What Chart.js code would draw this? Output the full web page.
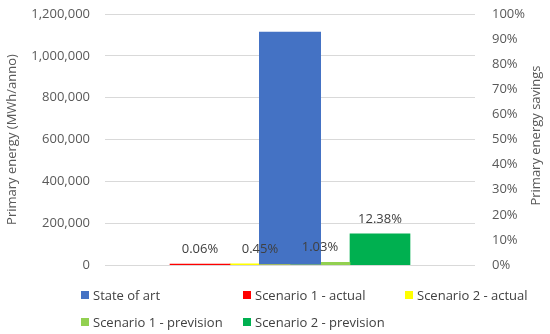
<!DOCTYPE html>
<html>
<head>
<meta charset="utf-8">
<script src="https://cdn.jsdelivr.net/npm/chart.js@4/dist/chart.umd.min.js"></script>
<style>
  html, body { margin: 0; padding: 0; background: #fff; }
  #wrap { position: relative; width: 550px; height: 334px; }
  #legend { position: absolute; left: 81px; top: 281px; width: 469px;
    display: grid; grid-template-columns: 162px 162px 145px; grid-auto-rows: 27px;
    font: 13px "Open Sans", sans-serif; color: #404040; }
  #legend div { display: flex; align-items: center; white-space: nowrap; }
  #legend span { display: inline-block; width: 8px; height: 8px; margin-right: 4px; }
</style>
</head>
<body>
<div id="wrap">
  <canvas id="chart" width="550" height="334"></canvas>
  <div id="legend"></div>
</div>
<script>
// values
var categories = [''];
var stateOfArt = [1115000];            // MWh/anno, left axis
var savingLabels = ['Scenario 1 - actual', 'Scenario 2 - actual', 'Scenario 1 - prevision', 'Scenario 2 - prevision'];
var savingValues = [0.06, 0.45, 1.03, 12.38];   // %, right axis
var savingColors = ['#FF0000', '#FFFF00', '#92D050', '#00B050'];

var datasets = [{
  label: 'State of art',
  data: stateOfArt,
  backgroundColor: '#4472C4',
  yAxisID: 'y',
  grouped: false,
  maxBarThickness: 62
}];
for (var i = 0; i < savingValues.length; i++) {
  datasets.push({
    label: savingLabels[i],
    data: [savingValues[i]],
    backgroundColor: savingColors[i],
    yAxisID: 'y1',
    barThickness: 60,
    minBarLength: 1,
    pctLabel: true
  });
}

// percent labels above the saving bars + right axis title read bottom-up like Excel
var pctLabels = {
  id: 'pctLabels',
  afterDatasetsDraw: function(chart) {
    var ctx = chart.ctx;
    ctx.save();
    ctx.font = '13px "Open Sans", sans-serif';
    ctx.fillStyle = '#404040';
    ctx.textAlign = 'center';
    ctx.textBaseline = 'middle';
    chart.data.datasets.forEach(function(ds, di) {
      if (!ds.pctLabel) return;
      chart.getDatasetMeta(di).data.forEach(function(bar, j) {
        ctx.fillText(ds.data[j].toFixed(2) + '%', bar.x, bar.y - 15);
      });
    });
    var a = chart.chartArea;
    ctx.fillStyle = '#595959';
    ctx.translate(536, (a.top + a.bottom) / 2 - 4);
    ctx.rotate(-Math.PI / 2);
    ctx.fillText('Primary energy savings', 0, 0);
    ctx.restore();
  }
};

function fixBox(w) {
  return function(s) { s.width = w; s.paddingTop = 0; s.paddingBottom = 0; };
}

var tickFont = { family: 'Open Sans', size: 13 };
var chart = new Chart(document.getElementById('chart').getContext('2d'), {
  type: 'bar',
  data: { labels: categories, datasets: datasets },
  options: {
    responsive: false,
    animation: false,
    layout: { padding: { top: 14, bottom: 69, left: 0, right: 0 } },
    plugins: { legend: { display: false }, tooltip: { enabled: false } },
    scales: {
      x: { display: false },
      y: {
        position: 'left',
        min: 0, max: 1200000,
        ticks: { stepSize: 200000, padding: 15, color: '#595959', font: tickFont,
          callback: function(v) { return v.toLocaleString('en-US'); } },
        grid: { color: '#d9d9d9', drawTicks: false },
        border: { display: false },
        title: { display: true, text: 'Primary energy (MWh/anno)', color: '#595959',
          font: tickFont, padding: { top: 4, bottom: 0 } },
        afterFit: fixBox(105)
      },
      y1: {
        position: 'right',
        min: 0, max: 100,
        ticks: { stepSize: 10, padding: 17, color: '#595959', font: tickFont,
          callback: function(v) { return v + '%'; } },
        grid: { display: false, drawTicks: false },
        border: { display: false },
        afterFit: fixBox(75)
      }
    }
  },
  plugins: [pctLabels]
});

// legend laid out in Excel-like columns
var html = '';
chart.data.datasets.forEach(function(ds) {
  html += '<div><span style="background:' + ds.backgroundColor + '"></span>' + ds.label + '</div>';
});
document.getElementById('legend').innerHTML = html;
</script>
</body>
</html>
